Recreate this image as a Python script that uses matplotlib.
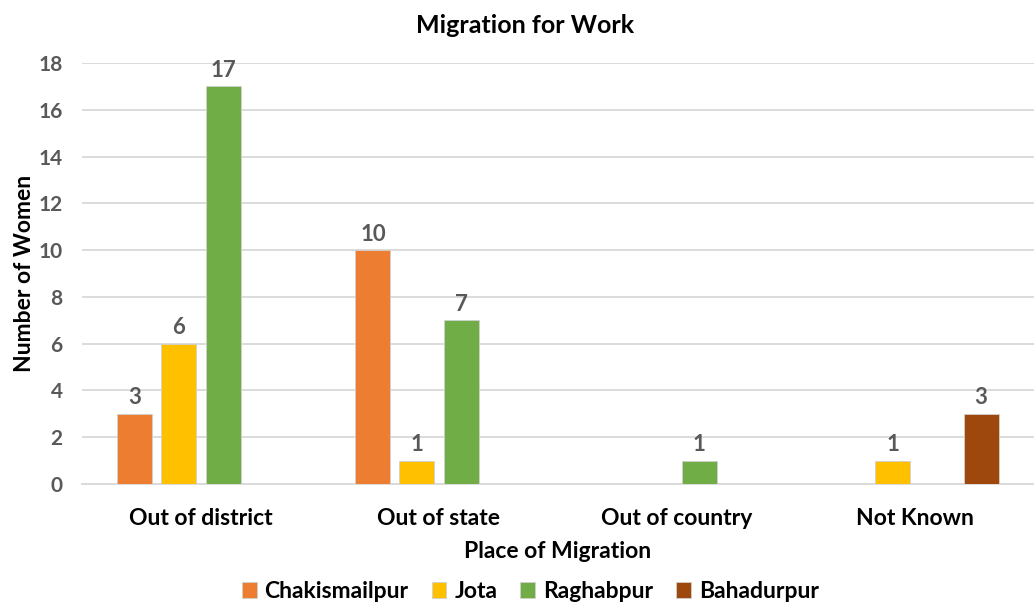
import matplotlib
matplotlib.use('Agg')
import matplotlib.pyplot as plt
import numpy as np

plt.rcParams['font.family'] = ['Lato', 'DejaVu Sans']
plt.rcParams['font.weight'] = 'bold'

categories = ['Out of district', 'Out of state', 'Out of country', 'Not Known']
series_names = ['Chakismailpur', 'Jota', 'Raghabpur', 'Bahadurpur']
chakismailpur = [3, 10, 0, 0]
jota = [6, 1, 0, 1]
raghabpur = [17, 7, 1, 0]
bahadurpur = [0, 0, 0, 3]
colors = ['#ED7D31', '#FFC000', '#70AD47', '#9E480E']

fig = plt.figure(figsize=(10.34, 6.07), dpi=100)
ax = fig.add_axes([0.0793, 0.2026, 0.9207, 0.6935])

x = np.arange(len(categories))
slot = 0.185
width = 0.147
grey = '#595959'

for i, (name, vals) in enumerate(zip(series_names, [chakismailpur, jota, raghabpur, bahadurpur])):
    offs = (i - 1.5) * slot
    vals = np.array(vals)
    mask = vals > 0
    ax.bar(x[mask] + offs, vals[mask], width, color=colors[i], edgecolor='#d0d0d0',
           linewidth=0.6, label=name, zorder=3)
    for xi, v in zip(x[mask] + offs, vals[mask]):
        ax.annotate(f'{v}', xy=(xi, v), xytext=(0, 4), textcoords='offset points',
                    ha='center', va='bottom', fontsize=16, fontweight='bold', color=grey)

ax.set_xlim(-0.5, 3.5)
ax.set_ylim(0, 18)
ax.set_yticks(range(0, 19, 2))
ax.set_xticks(x)
ax.set_xticklabels(categories, fontsize=16.5, color='black')
ax.tick_params(axis='y', labelsize=15, labelcolor=grey, length=0, pad=14)
ax.tick_params(axis='x', length=0, pad=17)
ax.grid(True, axis='y', color='#d9d9d9', linewidth=1.3, zorder=0)
ax.set_axisbelow(True)
for s in ['top', 'right', 'left']:
    ax.spines[s].set_visible(False)
ax.spines['bottom'].set_color('#d9d9d9')
ax.spines['bottom'].set_linewidth(1.3)

fig.text(0.508, 0.958, 'Migration for Work', fontsize=18, fontweight='bold',
         ha='center', va='center')
ax.set_xlabel('Place of Migration', fontsize=16.5, fontweight='bold', labelpad=9)
ax.set_ylabel('Number of Women', fontsize=16.5, fontweight='bold', labelpad=2)

fig.legend(loc='lower center', ncol=4, bbox_to_anchor=(0.513, -0.026), frameon=False,
           fontsize=16.5, handlelength=0.65, handleheight=0.65, columnspacing=1.0,
           handletextpad=0.35)

plt.savefig('out.png', dpi=100)
plt.close()
